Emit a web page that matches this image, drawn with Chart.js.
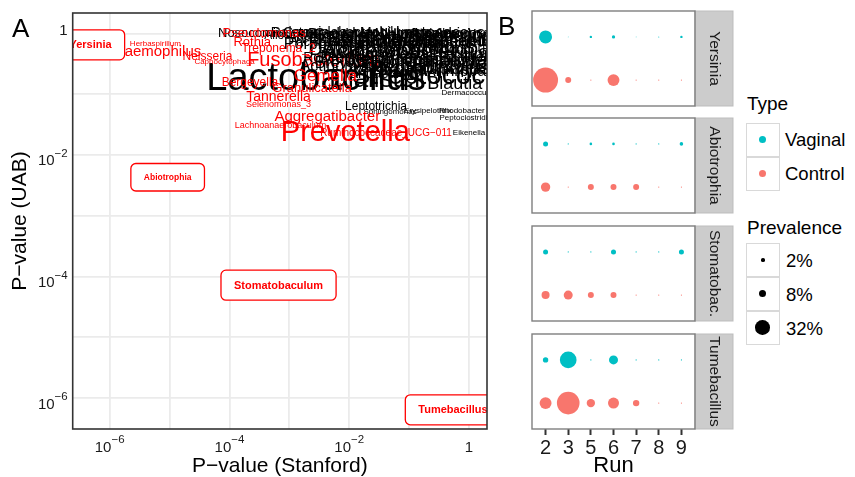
<!DOCTYPE html>
<html><head><meta charset="utf-8">
<script src="https://cdn.jsdelivr.net/npm/chart.js@4/dist/chart.umd.min.js"></script>
<style>
html,body{margin:0;padding:0;background:#fff;}
#root{position:relative;width:855px;height:477px;overflow:hidden;font-family:'Liberation Sans',Arial,Helvetica,sans-serif;color:#000;}
.wrap{position:absolute;}
.tag{position:absolute;font-size:26px;line-height:26px;}
.lt{position:absolute;white-space:nowrap;}
.key{position:absolute;left:746px;width:34px;height:34px;box-sizing:border-box;border:1.3px solid #D9D9D9;background:#fff;}
.dot{position:absolute;border-radius:50%;}
</style></head><body>
<div id="root">
  <div class="wrap" style="left:0;top:0;width:500px;height:477px"><canvas id="cA"></canvas></div>
  <div class="wrap" style="left:520px;top:9px;width:215px;height:99px"><canvas id="cB0"></canvas></div>
  <div class="wrap" style="left:520px;top:116px;width:215px;height:99px"><canvas id="cB1"></canvas></div>
  <div class="wrap" style="left:520px;top:224px;width:215px;height:99px"><canvas id="cB2"></canvas></div>
  <div class="wrap" style="left:520px;top:332px;width:215px;height:145px"><canvas id="cB3"></canvas></div>
  <div class="tag" style="left:12px;top:15px">A</div>
  <div class="tag" style="left:498px;top:13px">B</div>
  <div id="legend"></div>
</div>
<script>
// ---------------- DATA ----------------
// Panel A: genus labels placed at (P-value Stanford, P-value UAB)
const genus = [
 'Fusobacterium',
 'Nosocomiicoccus','Campylobacter','Alloscardovia','Gardnerella','Mobiluncus','Howardella','Atopobium','Aerococcus',
 'Lactococcus','Weissella','Leuconostoc','Bradyrhizobium','Ralstonia','Methylobacterium',
 'Bacteroides','Porphyromonas','Facklamia','Escherichia/Shigella','Sneathia','Staphylococcus','Enterococcus',
 'Brevibacterium','Faecalibacterium','Subdoligranulum',
 'Parvimonas','Corynebacterium_1','Megasphaera','Ezakiella','Bifidobacterium','Finegoldia','Actinomyces',
 'Acinetobacter','Achromobacter','Delftia','Stenotrophomonas','Brevundimonas','Cutibacterium','Roseburia',
 'Murdochiella','Peptoniphilus','Ureaplasma','Varibaculum','Kocuria','Arthrobacter','Blautia',
 'Dialister','Streptococcus','Lactobacillus',
 'Pseudomonas','Rothia','Treponema_2','Neisseria','Capnocytophaga','Haemophilus','Herbaspirillum',
 'Gemella','Bergeyella','Granulicatella','Tannerella','Selenomonas_3',
 'Leptotrichia','Sphingomonas','Erysipelothrix','Rhodobacter','Dermacoccus','Peptoclostridium','Eikenella',
 'Aggregatibacter','Lachnoanaerobaculum','Ruminococcaceae_UCG\u2212011','Prevotella',
 'Yersinia','Abiotrophia','Stomatobaculum','Tumebacillus'
];
const pStanford = [
 2.5e-3,
 4.5e-4, 4.8e-3, 1.5e-3, 0.0126, 0.059, 0.151, 0.40, 1.0,
 0.33, 4.8e-3, 0.86, 0.0152, 1.5e-3, 0.152,
 0.040, 7.1e-3, 3.0e-3, 0.186, 0.76, 0.085, 0.48,
 0.40, 0.0224, 0.071,
 0.0126, 0.224, 0.027, 1.0, 0.104, 0.48, 8.5e-3,
 0.048, 0.58, 5.8e-3, 0.152, 0.0224, 0.86, 5.8e-3,
 0.048, 0.224, 1.0, 0.033, 0.071, 1.0, 0.58,
 0.028, 0.33, 2.8e-3,
 3.8e-4, 2.4e-4, 6.6e-4, 4.3e-5, 8.3e-5, 6.3e-6, 5.8e-6,
 4.0e-3, 2.2e-4, 2.4e-3, 6.6e-4, 6.6e-4,
 0.028, 0.048, 0.207, 0.76, 0.89, 1.0, 1.0,
 4.3e-3, 7.1e-4, 0.041, 8.6e-3,
 4.8e-7, 9.3e-6, 6.6e-4, 0.54
];
const pUAB = [
 0.366,
 1.0, 1.0, 0.91, 0.94, 1.0, 1.0, 1.0, 1.0,
 1.0, 0.84, 0.91, 1.0, 1.0, 0.875,
 0.78, 0.65, 0.70, 0.72, 0.75, 0.58, 0.535,
 0.724, 0.724, 0.67,
 0.48, 0.44, 0.40, 0.40, 0.34, 0.31, 0.29,
 0.50, 0.535, 0.535, 0.366, 0.315, 0.34, 0.395,
 0.27, 0.27, 0.25, 0.215, 0.232, 0.232, 0.148,
 0.172, 0.20, 0.172,
 1.0, 0.724, 0.556, 0.41, 0.34, 0.50, 0.67,
 0.20, 0.153, 0.127, 0.090, 0.069,
 0.062, 0.051, 0.053, 0.053, 0.105, 0.041, 0.023,
 0.042, 0.031, 0.023, 0.023,
 0.65, 4.3e-3, 7.2e-5, 6.4e-7
];
// mean relative abundance (%) -> text size
const meanAbundance = [
 19.1,
 4.8, 6.25, 3.5, 9.8, 6.25, 4.8, 7.9, 4.8,
 9.8, 14.1, 14.1, 7.9, 6.25, 19.1,
 25, 9.8, 4.8, 7.9, 11.8, 19.1, 6.25,
 9.8, 9.8, 6.25,
 6.25, 14.1, 14.1, 7.9, 6.25, 9.8, 9.8,
 25, 19.1, 14.1, 14.1, 9.8, 19.1, 6.25,
 4.8, 19.1, 9.8, 6.25, 9.8, 9.8, 14.1,
 39, 47, 100,
 4.8, 4.8, 3.5, 3.5, 0.39, 7.9, 0.39,
 11.8, 3.5, 4.8, 6.25, 0.88,
 3.5, 0.39, 0.39, 0.39, 0.39, 0.39, 0.39,
 7.9, 0.88, 1.56, 51.7,
 2.44, 0.61, 2.44, 2.44
];
// 1 = significant (red), 0 = not significant (black)
const significant = [
 1,
 0,0,0,0,0,0,0,0,
 0,0,0,0,0,0,
 0,0,0,0,0,0,0,
 0,0,0,
 0,0,0,0,0,0,0,
 0,0,0,0,0,0,0,
 0,0,0,0,0,0,0,
 0,0,0,
 1,1,1,1,1,1,1,
 1,1,1,1,1,
 0,0,0,0,0,0,0,
 1,1,1,1,
 1,1,1,1
];
const highlighted = ['Yersinia','Abiotrophia','Stomatobaculum','Tumebacillus'];
const decades = [-6,-5,-4,-3,-2,-1,0];
const xTickLabels = ['10^\u22126','','10^\u22124','','10^\u22122','','1'];
const yTickLabels = ['10^\u22126','','10^\u22124','','10^\u22122','','1'];

// Panel B: prevalence (%) per run
const runs = ['2','3','5','6','7','8','9'];
const facetNames = ['Yersinia','Abiotrophia','Stomatobac.','Tumebacillus'];
const yersiniaVaginal      = [25, 0.1, 0.85, 1.6, 0.1, 0.15, 0.85];
const yersiniaControl      = [92, 5.3, 0.2, 21, 0.2, 0.2, 0.2];
const abiotrophiaVaginal   = [3.7, 0.2, 1.0, 1.0, 0.2, 0.2, 1.9];
const abiotrophiaControl   = [13, 0.2, 5.3, 5.3, 5.3, 0.2, 0.2];
const stomatobacVaginal    = [3.7, 0.2, 0.2, 3.7, 0.2, 0.2, 3.7];
const stomatobacControl    = [9.5, 12, 5.3, 5.3, 0.2, 0.2, 0.2];
const tumebacillusVaginal  = [4.3, 41, 0.2, 12, 0.2, 0.2, 0.2];
const tumebacillusControl  = [21, 76, 10.4, 18, 6, 0.2, 0.2];
const legendPrevalence = [2, 8, 32];

// ---------------- STYLE ----------------
const FONT = "'Liberation Sans', Arial, Helvetica, sans-serif";
const RED = '#FF0000', VAG = '#00BFC4', CTRL = '#F8766D';
Chart.defaults.font.family = FONT;
Chart.defaults.color = '#1a1a1a';
const fontPx = ab => 6 + 3.2 * Math.sqrt(ab);
const prevRadius = p => 1.3 * Math.sqrt(p);

// ---------------- PANEL A ----------------
const labelPlugin = {
  id: 'genusLabels',
  afterDatasetsDraw(chart) {
    const {ctx, chartArea: a, scales: {x, y}} = chart;
    ctx.save();
    ctx.beginPath(); ctx.rect(a.left, a.top, a.right - a.left, a.bottom - a.top); ctx.clip();
    ctx.textAlign = 'center'; ctx.textBaseline = 'middle';
    genus.forEach((g, i) => {
      const px = x.getPixelForValue(pStanford[i]);
      const py = y.getPixelForValue(pUAB[i]);
      const fs = fontPx(meanAbundance[i]);
      if (highlighted.includes(g)) {
        ctx.font = `bold ${fs}px ${FONT}`;
        const w = ctx.measureText(g).width + 26, h = fs + 19;
        ctx.beginPath();
        ctx.roundRect(px - w / 2, py - h / 2, w, h, 5);
        ctx.fillStyle = '#fff'; ctx.fill();
        ctx.lineWidth = 1.3; ctx.strokeStyle = RED; ctx.stroke();
        ctx.fillStyle = RED; ctx.fillText(g, px, py + 0.5);
      } else {
        ctx.font = `${fs}px ${FONT}`;
        ctx.fillStyle = significant[i] ? RED : '#000';
        ctx.fillText(g, px, py);
      }
    });
    ctx.restore();
  }
};
function drawPow(ctx, lab, x, yBase, align) {
  const parts = lab.split('^');
  ctx.font = `15px ${FONT}`;
  const wb = ctx.measureText(parts[0]).width;
  let we = 0;
  if (parts.length > 1) { ctx.font = `11.5px ${FONT}`; we = ctx.measureText(parts[1]).width; }
  const total = wb + we;
  const left = align === 'center' ? x - total / 2 : x - total;
  ctx.textAlign = 'left'; ctx.textBaseline = 'alphabetic';
  ctx.font = `15px ${FONT}`; ctx.fillText(parts[0], left, yBase);
  if (parts.length > 1) { ctx.font = `11.5px ${FONT}`; ctx.fillText(parts[1], left + wb, yBase - 8.4); }
}
const frameAndTicksPlugin = {
  id: 'frameTicks',
  afterDraw(chart) {
    const {ctx, chartArea: a, scales: {x, y}} = chart;
    ctx.save();
    ctx.lineWidth = 1.6; ctx.strokeStyle = '#333333';
    ctx.strokeRect(a.left, a.top, a.right - a.left, a.bottom - a.top);
    ctx.fillStyle = '#1a1a1a';
    decades.forEach((e, i) => {
      const lab = xTickLabels[i]; if (!lab) return;
      drawPow(ctx, lab, x.getPixelForValue(Math.pow(10, e)), a.bottom + 22.7, 'center');
    });
    decades.forEach((e, i) => {
      const lab = yTickLabels[i]; if (!lab) return;
      const py = y.getPixelForValue(Math.pow(10, e));
      drawPow(ctx, lab, a.left - 5, py + (lab.includes('^') ? 10.5 : 2), 'right');
    });
    ctx.restore();
  }
};
const decadeTicks = s => { s.ticks = decades.map(e => ({value: Math.pow(10, e)})); };
new Chart(document.getElementById('cA'), {
  type: 'scatter',
  data: {datasets: [{data: genus.map((g, i) => ({x: pStanford[i], y: pUAB[i]})), pointRadius: 0, pointHoverRadius: 0}]},
  options: {
    responsive: true, maintainAspectRatio: false, animation: false, events: [],
    layout: {padding: {left: 0, top: 13, right: 13, bottom: 0}, autoPadding: false},
    plugins: {legend: {display: false}, tooltip: {enabled: false}},
    scales: {
      x: {
        type: 'logarithmic', min: Math.pow(10, -6.617), max: Math.pow(10, 0.3), bounds: 'data',
        afterBuildTicks: decadeTicks,
        afterFit: s => { s.height = 48; },
        grid: {color: '#EBEBEB', lineWidth: 1.8, drawTicks: false},
        border: {display: false},
        ticks: {display: false},
        title: {display: true, text: 'P\u2212value (Stanford)', font: {size: 21, lineHeight: 1}, color: '#000', padding: {top: 0, bottom: 0}}
      },
      y: {
        type: 'logarithmic', min: Math.pow(10, -6.51), max: Math.pow(10, 0.337), bounds: 'data',
        afterBuildTicks: decadeTicks,
        afterFit: s => { s.width = 72.7; },
        grid: {color: '#EBEBEB', lineWidth: 1.8, drawTicks: false},
        border: {display: false},
        ticks: {display: false},
        title: {display: true, text: 'P\u2212value (UAB)', font: {size: 21, lineHeight: 1}, color: '#000', padding: {top: 9.5, bottom: 0}}
      }
    }
  },
  plugins: [labelPlugin, frameAndTicksPlugin]
});

// ---------------- PANEL B ----------------
const facetData = [
  [yersiniaVaginal, yersiniaControl],
  [abiotrophiaVaginal, abiotrophiaControl],
  [stomatobacVaginal, stomatobacControl],
  [tumebacillusVaginal, tumebacillusControl]
];
const facetPlugin = {
  id: 'facetFrame',
  afterDraw(chart) {
    const {ctx, chartArea: a} = chart;
    const name = chart.options.plugins.facetFrame.name;
    ctx.save();
    ctx.fillStyle = '#CCCCCC';
    ctx.fillRect(a.right, a.top, 38, a.bottom - a.top);
    ctx.lineWidth = 1; ctx.strokeStyle = '#BDBDBD';
    ctx.strokeRect(a.right, a.top, 38, a.bottom - a.top);
    ctx.translate(a.right + 19, (a.top + a.bottom) / 2);
    ctx.rotate(Math.PI / 2);
    ctx.fillStyle = '#1a1a1a'; ctx.font = `15.5px ${FONT}`;
    ctx.textAlign = 'center'; ctx.textBaseline = 'middle';
    ctx.fillText(name, 0, 0);
    ctx.restore();
    ctx.save();
    ctx.lineWidth = 1.4; ctx.strokeStyle = '#7F7F7F';
    ctx.strokeRect(a.left, a.top, a.right - a.left, a.bottom - a.top);
    ctx.restore();
  }
};
facetNames.forEach((name, k) => {
  const isLast = k === facetNames.length - 1;
  const [vag, ctrl] = facetData[k];
  new Chart(document.getElementById('cB' + k), {
    type: 'bubble',
    data: {datasets: [
      {label: 'Vaginal', data: runs.map((r, i) => ({x: i, y: 1, r: prevRadius(vag[i])})), backgroundColor: VAG, borderWidth: 0, hoverRadius: 0, clip: false},
      {label: 'Control', data: runs.map((r, i) => ({x: i, y: 0, r: prevRadius(ctrl[i])})), backgroundColor: CTRL, borderWidth: 0, hoverRadius: 0, clip: false}
    ]},
    options: {
      responsive: true, maintainAspectRatio: false, animation: false, events: [],
      layout: {padding: {left: 12, right: 40, top: 2, bottom: isLast ? 0 : 2}, autoPadding: false},
      plugins: {legend: {display: false}, tooltip: {enabled: false}, facetFrame: {name}},
      scales: {
        x: {
          type: 'linear', min: -0.6, max: 6.6, display: isLast,
          afterBuildTicks: s => { s.ticks = runs.map((r, i) => ({value: i})); },
          afterFit: s => { if (isLast) s.height = 48; },
          grid: {drawOnChartArea: false, drawTicks: true, tickLength: 6, tickWidth: 2, tickColor: '#333'},
          border: {display: false},
          ticks: {autoSkip: false, maxRotation: 0, padding: 1, font: {size: 20}, color: '#1a1a1a',
                  callback: v => runs[v]},
          title: {display: true, text: 'Run', font: {size: 22, lineHeight: 1}, color: '#000', padding: {top: 0, bottom: 0}}
        },
        y: {type: 'linear', min: -0.6, max: 1.6, display: false}
      }
    },
    plugins: [facetPlugin]
  });
});

// ---------------- LEGEND ----------------
const lg = document.getElementById('legend');
function addText(txt, left, top, size) {
  const d = document.createElement('div');
  d.className = 'lt'; d.textContent = txt;
  d.style.left = left + 'px'; d.style.top = top + 'px';
  d.style.fontSize = size + 'px'; d.style.lineHeight = size + 'px';
  lg.appendChild(d);
}
function addKey(top, r, color) {
  const k = document.createElement('div');
  k.className = 'key'; k.style.top = top + 'px';
  const d = document.createElement('div');
  d.className = 'dot';
  d.style.width = d.style.height = (2 * r) + 'px';
  d.style.left = (17 - r - 1.3) + 'px'; d.style.top = (17 - r - 1.3) + 'px';
  d.style.background = color;
  k.appendChild(d); lg.appendChild(k);
}
addText('Type', 747, 94, 19);
addKey(123, 3.6, VAG); addKey(157, 3.6, CTRL);
addText('Vaginal', 785, 130.75, 18.5);
addText('Control', 785, 164.75, 18.5);
addText('Prevalence', 747, 217.5, 19);
const keyTops = [243, 277, 311];
legendPrevalence.forEach((p, i) => {
  addKey(keyTops[i], prevRadius(p), '#000');
  addText(p + '%', 786, keyTops[i] + 8.75, 18.5);
});
</script>
</body></html>
